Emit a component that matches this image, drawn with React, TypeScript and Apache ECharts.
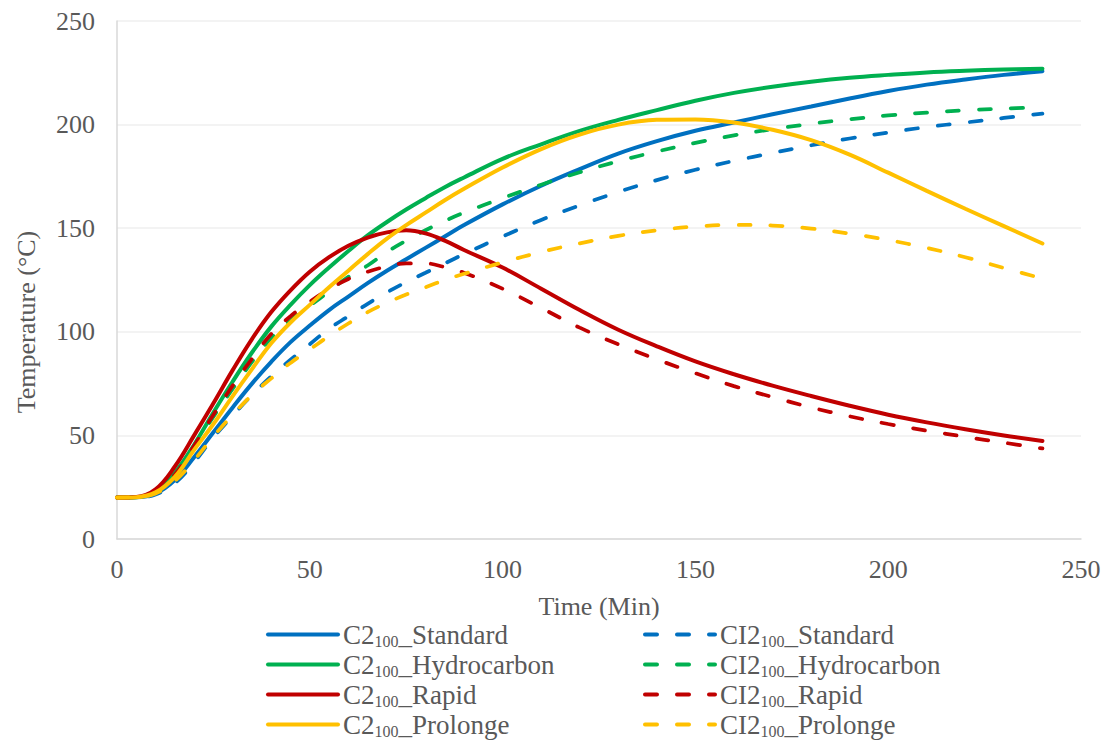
import React, { useEffect, useRef } from "react";
import * as echarts from "echarts";

const times = [0, 5, 10, 15, 20, 25, 30, 35, 40, 45, 50, 55, 60, 65, 70, 75, 80, 85, 90, 100, 110, 120, 130, 140, 150, 160, 170, 180, 190, 200, 210, 220, 230, 240];

const c2Standard = [20, 20.1, 22, 28.5, 39.5, 51.5, 63.5, 75, 85.5, 95, 103, 110.5, 117, 123.5, 129.5, 135, 140.5, 146, 151.5, 161.5, 170.5, 178.5, 186, 192, 197, 201, 205, 208.7, 212.6, 216.2, 219.3, 221.8, 224, 225.8];
const ci2Standard = [20, 20.1, 21.5, 27, 37, 49, 59.5, 69.5, 78.5, 86.5, 94, 101.5, 107.5, 113.5, 119, 124, 128.5, 133, 137.5, 146, 154, 161, 167.5, 173.2, 178.2, 182.5, 186.3, 190, 193.3, 196.2, 198.8, 201, 203.2, 205.3];
const c2Hydrocarbon = [20, 20.2, 23, 32, 45.5, 61, 76, 90, 102.5, 113, 122.5, 131, 139, 146.5, 153, 159, 164.5, 169.8, 174.5, 183.5, 190.5, 197, 202.3, 207, 211.5, 215.3, 218.3, 220.7, 222.6, 224, 225.2, 226, 226.6, 227];
const ci2Hydrocarbon = [20, 20.2, 22.5, 31, 44.5, 59, 72.5, 85.5, 97, 105.5, 112.5, 119.5, 126.5, 132, 138.5, 144, 149, 153.5, 157.5, 164.5, 171, 177, 182.3, 187, 191.2, 194.8, 197.8, 200.4, 202.6, 204.4, 205.8, 206.9, 207.7, 208.3];
const c2Rapid = [20, 20.3, 24, 35, 50, 65.5, 81.5, 96.5, 109.5, 120, 129, 136, 141.5, 145.5, 148, 149, 147.5, 144, 139.5, 131, 120.8, 110.5, 101, 93, 85.7, 79.5, 74, 69, 64.3, 60, 56.3, 53, 50, 47.3];
const ci2Rapid = [20, 20.2, 23, 31, 45, 60, 74, 87, 99, 107.5, 114.5, 120.5, 125.5, 129, 131.5, 133, 133, 131.2, 128.5, 120.8, 111.5, 102, 94, 86.7, 80, 73.8, 68.5, 63.5, 59.2, 55.5, 52.3, 49.3, 46.5, 43.7];
const c2Prolonge = [20, 20.2, 22.5, 30, 43, 55.5, 69, 82, 94.5, 104.5, 113, 121.5, 129.5, 137.5, 145, 151.5, 157.5, 163.5, 169, 179.3, 188.2, 195.2, 200, 202.3, 202.5, 201, 197.5, 192.5, 185.5, 176.8, 168, 159.4, 151, 142.6];
const ci2Prolonge = [20, 20.2, 22, 28, 38, 49.5, 60, 69.5, 77.5, 85, 91.5, 98, 104, 109.5, 114, 118, 121.5, 125, 128, 133.5, 138.5, 142.7, 146.3, 149, 150.8, 151.6, 151.3, 149.8, 147.4, 144.3, 140.5, 136, 130.8, 125.7];

const xTicks = { min: 0, max: 250, interval: 50 };
const yTicks = { min: 0, max: 250, interval: 50 };

const seriesDefs = [
  { name: "C2100_Standard", values: c2Standard, color: "#0070C0", dashed: false },
  { name: "CI2100_Standard", values: ci2Standard, color: "#0070C0", dashed: true },
  { name: "C2100_Hydrocarbon", values: c2Hydrocarbon, color: "#00B050", dashed: false },
  { name: "CI2100_Hydrocarbon", values: ci2Hydrocarbon, color: "#00B050", dashed: true },
  { name: "C2100_Rapid", values: c2Rapid, color: "#C00000", dashed: false },
  { name: "CI2100_Rapid", values: ci2Rapid, color: "#C00000", dashed: true },
  { name: "C2100_Prolonge", values: c2Prolonge, color: "#FFC000", dashed: false },
  { name: "CI2100_Prolonge", values: ci2Prolonge, color: "#FFC000", dashed: true },
];

const FONT = '"Liberation Serif", "Times New Roman", serif';
const TEXT_COLOR = "#595959";

export default function App() {
  const ref = useRef<HTMLDivElement>(null);
  useEffect(() => {
    if (!ref.current) return;
    const chart = echarts.init(ref.current, undefined, { renderer: "svg" });
    const legendCommon = {
      orient: "vertical",
      itemWidth: 70,
      itemHeight: 20,
      itemGap: 1.5,
      padding: 0,
      height: 200,
      selectedMode: false,
      itemStyle: { opacity: 0 },
      lineStyle: { width: 4 },
      formatter: (name: string) => {
        const m = name.match(/^(CI?2)(100)(_.*)$/);
        if (!m) return name;
        return `{a|${m[1]}}{s|${m[2]}}{a|${m[3]}}`;
      },
      textStyle: {
        fontFamily: FONT,
        color: TEXT_COLOR,
        rich: {
          a: { fontFamily: FONT, fontSize: 27, color: TEXT_COLOR, lineHeight: 30 },
          s: { fontFamily: FONT, fontSize: 16, color: TEXT_COLOR, lineHeight: 22, verticalAlign: "bottom" },
        },
      },
    };
    chart.setOption({
      animation: false,
      backgroundColor: "#ffffff",
      textStyle: { fontFamily: FONT },
      grid: { left: 117, right: 26, top: 21, bottom: 201, containLabel: false },
      legend: [
        { ...legendCommon, left: 266, top: 621, data: seriesDefs.filter((s) => !s.dashed).map((s) => s.name) },
        { ...legendCommon, left: 643, top: 621, data: seriesDefs.filter((s) => s.dashed).map((s) => s.name) },
      ],
      xAxis: {
        type: "value",
        min: xTicks.min,
        max: xTicks.max,
        interval: xTicks.interval,
        name: "Time (Min)",
        nameLocation: "middle",
        nameGap: 54,
        nameTextStyle: { fontFamily: FONT, fontSize: 26, color: TEXT_COLOR },
        axisLine: { show: true, lineStyle: { color: "#d9d9d9", width: 1.5 } },
        axisTick: { show: false },
        splitLine: { show: false },
        axisLabel: { fontFamily: FONT, fontSize: 26, color: TEXT_COLOR, margin: 17 },
      },
      yAxis: {
        type: "value",
        min: yTicks.min,
        max: yTicks.max,
        interval: yTicks.interval,
        axisLine: { show: true, lineStyle: { color: "#d9d9d9", width: 1.5 } },
        axisTick: { show: false },
        splitLine: { show: true, lineStyle: { color: "#efefef", width: 1.5 } },
        axisLabel: { fontFamily: FONT, fontSize: 26, color: TEXT_COLOR, margin: 22 },
      },
      graphic: [
        {
          type: "text",
          x: 26,
          y: 322,
          rotation: Math.PI / 2,
          style: {
            text: "Temperature (°C)",
            fontFamily: FONT,
            fontSize: 26,
            fill: TEXT_COLOR,
            align: "center",
            verticalAlign: "middle",
          },
        },
      ],
      series: seriesDefs.map((s) => ({
        name: s.name,
        type: "line",
        smooth: 0.4,
        symbol: "none",
        showSymbol: false,
        data: times.map((t, i) => [t, s.values[i]]),
        itemStyle: { color: s.color },
        lineStyle: s.dashed
          ? { color: s.color, width: 3.75, type: [12, 20], cap: "round" }
          : { color: s.color, width: 4, cap: "round" },
      })),
    });
    return () => chart.dispose();
  }, []);
  return <div ref={ref} style={{ position: "fixed", left: 0, top: 0, width: 1107, height: 740 }} />;
}
